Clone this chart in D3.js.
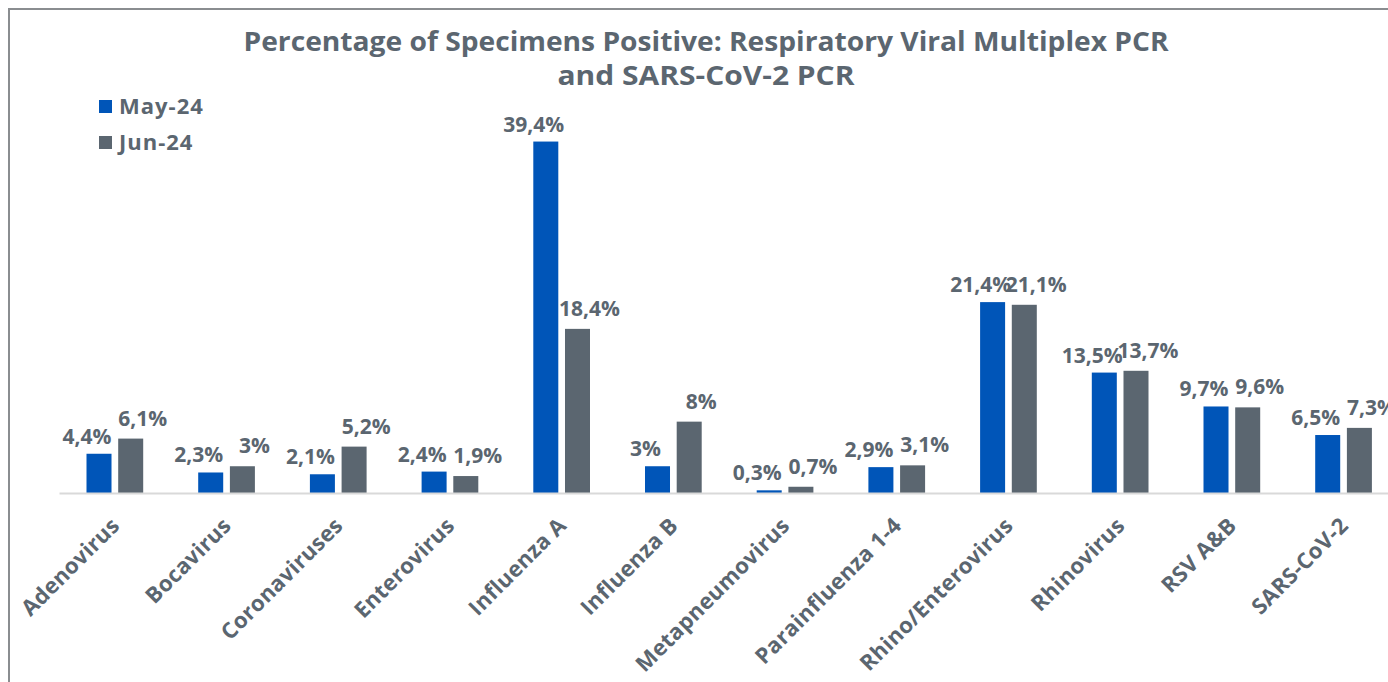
<!DOCTYPE html>
<html>
<head>
<meta charset="utf-8">
<script src="https://cdn.jsdelivr.net/npm/d3@7"></script>
<style>
  html, body { margin: 0; padding: 0; background: #fff; overflow: hidden; }
  svg { display: block; font-family: "Open Sans", "Liberation Sans", sans-serif; }
</style>
</head>
<body>
<div id="chart"></div>
<script>
// chart data
const categories = ["Adenovirus", "Bocavirus", "Coronaviruses", "Enterovirus", "Influenza A",
  "Influenza B", "Metapneumovirus", "Parainfluenza 1-4", "Rhino/Enterovirus", "Rhinovirus",
  "RSV A&B", "SARS-CoV-2"];
const seriesNames = ["May-24", "Jun-24"];
const may24 = [4.4, 2.3, 2.1, 2.4, 39.4, 3, 0.3, 2.9, 21.4, 13.5, 9.7, 6.5];
const jun24 = [6.1, 3, 5.2, 1.9, 18.4, 8, 0.7, 3.1, 21.1, 13.7, 9.6, 7.3];
const titleLines = ["Percentage of Specimens Positive: Respiratory Viral Multiplex PCR",
  "and SARS-CoV-2 PCR"];

const W = 1388, H = 682;
const colors = { "May-24": "#0055b8", "Jun-24": "#5b6670" };
const textColor = "#5b6670";

const rows = categories.map((c, i) => ({ cat: c, values: [
  { key: "May-24", value: may24[i] },
  { key: "Jun-24", value: jun24[i] }
]}));

const svg = d3.select("#chart").append("svg")
  .attr("width", W)
  .attr("height", H);

// outer frame
svg.append("rect")
  .attr("x", 9).attr("y", 9)
  .attr("width", W + 20).attr("height", H + 20)
  .attr("fill", "none")
  .attr("stroke", "#8a8d90")
  .attr("stroke-width", 2);

// title, stretched to the width of the original wide face
const titleWidths = [925, 297];
svg.append("g").selectAll("text")
  .data(titleLines)
  .enter().append("text")
  .attr("x", 706)
  .attr("y", (d, i) => 51 + i * 34)
  .attr("text-anchor", "middle")
  .attr("textLength", (d, i) => titleWidths[i])
  .attr("lengthAdjust", "spacingAndGlyphs")
  .attr("fill", textColor)
  .style("font-weight", "700")
  .style("font-size", "26px")
  .text(d => d);

const baseY = 493;
const x0 = d3.scaleBand()
  .domain(categories)
  .range([59, 59 + 12 * 111.7])
  .paddingInner(0.4924)
  .paddingOuter(0.2462);

const x1 = d3.scaleBand()
  .domain(seriesNames)
  .range([0, x0.bandwidth()])
  .paddingInner(0.211);

const y = d3.scaleLinear()
  .domain([0, 45])
  .range([baseY, baseY - 45 * 8.92]);

// bars
const groups = svg.append("g").selectAll("g")
  .data(rows)
  .enter().append("g")
  .attr("transform", d => `translate(${x0(d.cat)},0)`);

groups.selectAll("rect")
  .data(d => d.values)
  .enter().append("rect")
  .attr("x", d => x1(d.key))
  .attr("y", d => y(d.value))
  .attr("width", x1.bandwidth())
  .attr("height", d => baseY - y(d.value))
  .attr("fill", d => colors[d.key]);

// data labels
const fmt = v => (Number.isInteger(v) ? String(v) : v.toFixed(1).replace(".", ",")) + "%";
groups.selectAll("text")
  .data(d => d.values)
  .enter().append("text")
  .attr("x", d => x1(d.key) + x1.bandwidth() / 2 + (d.key === "May-24" ? -12 : 12))
  .attr("y", d => y(d.value) - (d.key === "May-24" ? 10 : 13))
  .attr("text-anchor", "middle")
  .attr("fill", textColor)
  .style("font-weight", "700")
  .style("font-size", "21px")
  .text(d => fmt(d.value));

// category axis
const axis = svg.append("g")
  .attr("transform", `translate(0,${baseY})`)
  .call(d3.axisBottom(x0).tickSize(0).tickSizeOuter(0));

axis.select(".domain")
  .attr("stroke", "#d9d9d9")
  .attr("stroke-width", 2);

axis.selectAll(".tick text")
  .attr("y", 0)
  .attr("dy", 0)
  .attr("transform", "translate(6,34) rotate(-45)")
  .attr("text-anchor", "end")
  .attr("fill", textColor)
  .style("font-family", "'Open Sans', sans-serif")
  .style("font-weight", "700")
  .style("font-size", "22px")
  .style("letter-spacing", "0.3px");

// legend
const legend = svg.append("g");
seriesNames.forEach((s, i) => {
  const ly = 100 + i * 36;
  legend.append("rect")
    .attr("x", 99).attr("y", ly)
    .attr("width", 13).attr("height", 13)
    .attr("fill", colors[s]);
  legend.append("text")
    .attr("x", 119).attr("y", ly + 14)
    .attr("fill", textColor)
    .style("font-weight", "700")
    .style("font-size", "22px")
    .style("letter-spacing", "1px")
    .text(s);
});
</script>
</body>
</html>
